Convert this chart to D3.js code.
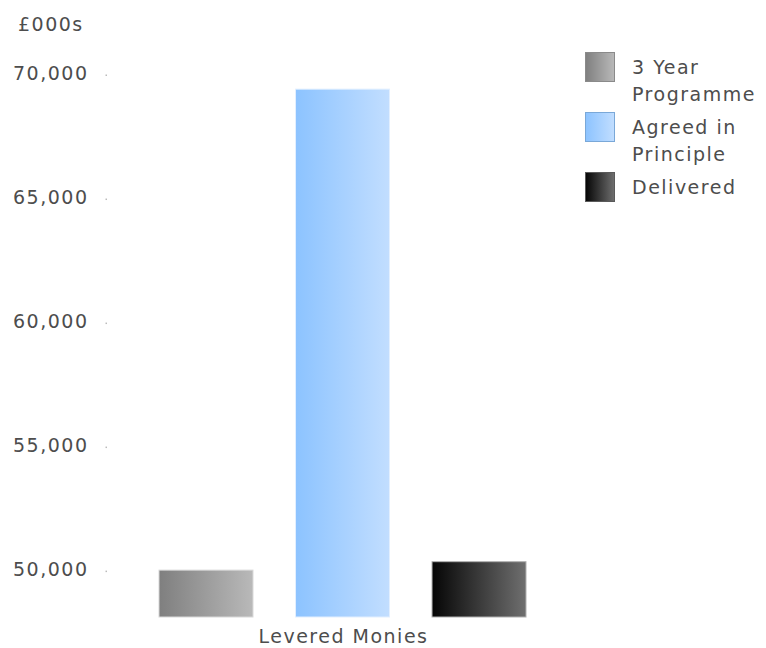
<!DOCTYPE html>
<html>
<head>
<meta charset="utf-8">
<script src="https://cdn.jsdelivr.net/npm/d3@7"></script>
<style>
  html, body { margin: 0; padding: 0; background: #fff; }
  svg text { font-family: "DejaVu Sans", Verdana, sans-serif; fill: #4d4d4d; letter-spacing: 1.5px; }
</style>
</head>
<body>
<svg id="chart" width="766" height="648"></svg>
<script>
const categories = ["Levered Monies"];
const seriesNames = ["3 Year Programme", "Agreed in Principle", "Delivered"];
const legendLines = [["3 Year", "Programme"], ["Agreed in", "Principle"], ["Delivered"]];
const values = [50040, 69430, 50380];
const tickValues = [50000, 55000, 60000, 65000, 70000];
const tickLabels = ["50,000", "55,000", "60,000", "65,000", "70,000"];
const unitLabel = "£000s";
const gradStops = [["#7f7f7f", "#b9b9b9"], ["#8cc3ff", "#c2deff"], ["#050505", "#6f6f6f"]];
const strokes = ["#d8d8d8", "#e2efff", "#b0b0b0"];
const legendStrokes = ["#8a8a8a", "#7aa8d8", "#5a5a5a"];

const svg = d3.select("#chart");
const defs = svg.append("defs");
gradStops.forEach((g, i) => {
  const lg = defs.append("linearGradient").attr("id", "g" + i)
    .attr("x1", "0%").attr("x2", "100%").attr("y1", "0%").attr("y2", "0%");
  lg.append("stop").attr("offset", "0%").attr("stop-color", g[0]);
  lg.append("stop").attr("offset", "100%").attr("stop-color", g[1]);
});

const y = d3.scaleLinear().domain([48150, 70000]).range([617, 75]);
const x0 = d3.scaleBand().domain(categories).range([159, 526]);
const x1 = d3.scaleBand().domain(seriesNames).range([0, x0.bandwidth()]).paddingInner(0.3116);

// Y axis labels & tick dots
const yAxis = svg.append("g");
tickValues.forEach((v, i) => {
  yAxis.append("text").attr("x", 88.5).attr("y", y(v) + 5)
    .attr("text-anchor", "end").style("font-size", "19px").text(tickLabels[i]);
  yAxis.append("rect").attr("x", 105.5).attr("y", y(v) - 0.5)
    .attr("width", 1.5).attr("height", 1.5).attr("fill", "#bbb");
});
svg.append("text").attr("x", 18).attr("y", 31).style("font-size", "19px").text(unitLabel);

// Bars
categories.forEach(cat => {
  const g = svg.append("g").attr("transform", `translate(${x0(cat)},0)`);
  g.selectAll("rect").data(values).join("rect")
    .attr("x", (d, i) => x1(seriesNames[i]))
    .attr("y", d => y(d))
    .attr("width", x1.bandwidth())
    .attr("height", d => y.range()[0] - y(d))
    .attr("fill", (d, i) => `url(#g${i})`)
    .attr("stroke", (d, i) => strokes[i])
    .attr("stroke-width", 1);
  svg.append("text").attr("x", x0(cat) + x0.bandwidth() / 2 + 1).attr("y", 643)
    .attr("text-anchor", "middle").style("font-size", "19px").text(cat);
});

// Legend
const legendY = [52, 112, 172];
seriesNames.forEach((s, i) => {
  const lg = svg.append("g").attr("transform", `translate(585,${legendY[i]})`);
  lg.append("rect").attr("x", 0.5).attr("y", 0.5).attr("width", 29).attr("height", 29)
    .attr("fill", `url(#g${i})`).attr("stroke", legendStrokes[i]);
  legendLines[i].forEach((t, j) => {
    lg.append("text").attr("x", 47).attr("y", 22 + j * 27)
      .style("font-size", "19px").text(t);
  });
});
</script>
</body>
</html>
